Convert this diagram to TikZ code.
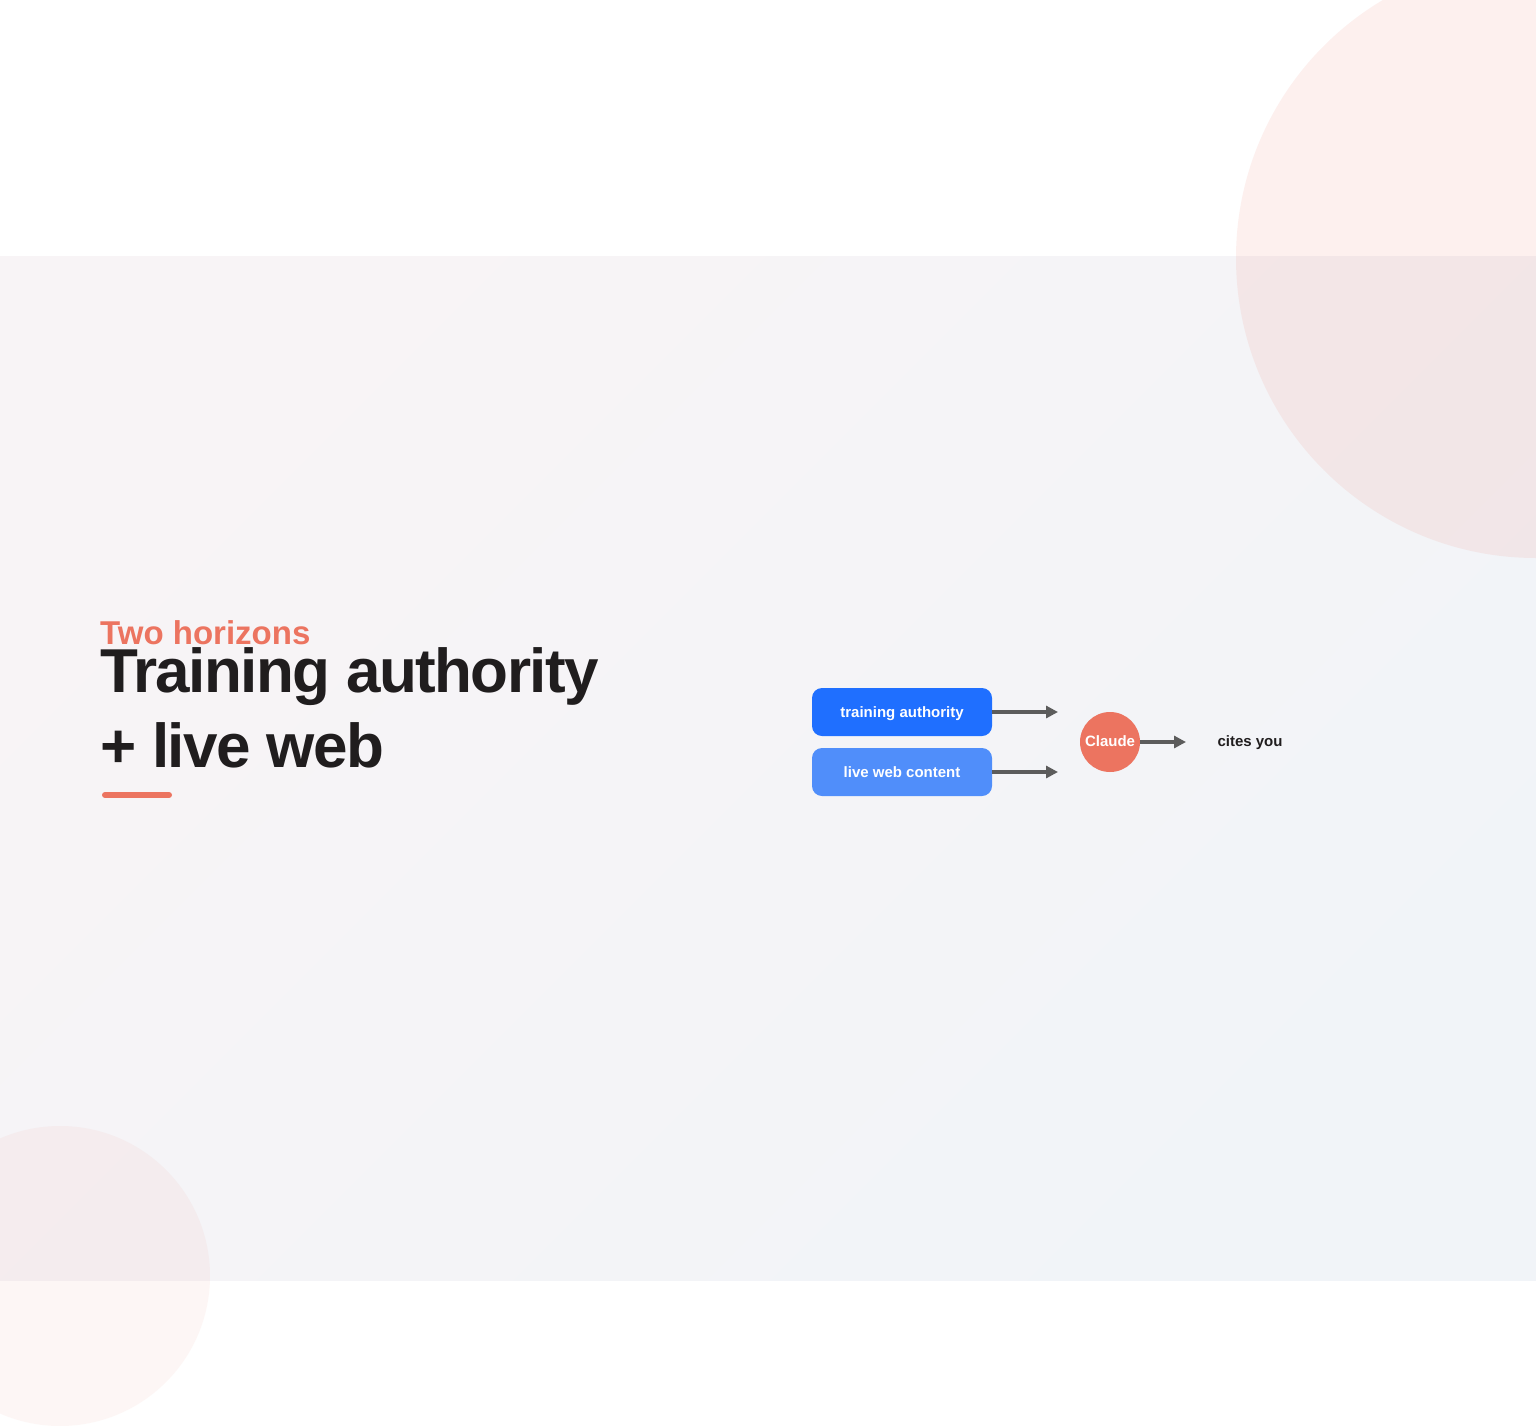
\documentclass[tikz,border=0pt]{standalone}
\usepackage{fontspec}
\setmainfont{Liberation Sans}
\usetikzlibrary{positioning}
\usetikzlibrary{calc}
\usetikzlibrary{arrows.meta}
\definecolor{ink}{RGB}{32,29,30}
\definecolor{coral}{RGB}{236,116,96}
\definecolor{blueA}{RGB}{31,111,255}
\definecolor{blueB}{RGB}{80,142,250}
\definecolor{arrowgray}{RGB}{92,92,92}
\definecolor{bandA}{RGB}{248,244,246}
\definecolor{bandB}{RGB}{241,244,248}

\begin{document}
\begin{tikzpicture}[x=1pt, y=-1pt,
		srcbox/.style={rounded corners=10pt, minimum width=180pt, minimum height=48pt, inner sep=0pt, text height=10pt, text depth=0pt, text=white, font=\fontsize{15}{18}\selectfont\bfseries},
		lbl/.style={inner sep=0pt, text height=8pt, text depth=0pt, font=\fontsize{15}{18}\selectfont\bfseries},
		flow/.style={arrowgray, line width=4pt, -{Triangle[length=12pt,width=12pt]}}]
			\useasboundingbox (0,0) rectangle (1536,1426);
			\clip (0,0) rectangle (1536,1426);

			% Background bands
			\fill[white] (0,0) rectangle (1536,1426);
			\shade[top color=bandA, bottom color=bandB, shading angle=45] (0,256) rectangle (1536,1280);

			% Decorative circles
			\fill[coral, opacity=0.1] (1536,258) circle (300);
			\fill[coral, opacity=0.06] (60,1276) circle (150);

			% Heading
			\node[anchor=base west, inner sep=0pt, text=coral, font=\fontsize{33}{36}\selectfont\bfseries] (kicker) at (100,644) {Two horizons};
			\node[anchor=base west, inner sep=0pt, text=ink, font=\fontsize{62}{75}\selectfont\bfseries\addfontfeature{LetterSpace=-2.5}] (title) at (100,692) {Training authority};
			\node[anchor=base west, inner sep=0pt, text=ink, font=\fontsize{62}{75}\selectfont\bfseries\addfontfeature{LetterSpace=-2.5}] (title2) at (100,767) {+ live web};
			\draw[coral, line width=6pt, line cap=round] (105,795) -- (169,795);

			% Sources
			\node[srcbox, fill=blueA] (train) at (902,712) {training authority};
			\node[srcbox, fill=blueB] (live) at (902,772) {live web content};

			% Model and outcome
			\node[circle, lbl, fill=coral, minimum size=60pt, text=white] (claude) at (1110,742) {Claude};
			\node[lbl, text=ink] (cites) at (1250,742) {cites you};

			% Arrows
			\coordinate (inA) at (1058,712);
			\coordinate (inB) at (1058,772);
			\coordinate (outC) at (1186,742);
			\draw[flow] (train.east) -- (inA);
			\draw[flow] (live.east) -- (inB);
			\draw[flow] (claude.east) -- (outC);
		\end{tikzpicture}
\end{document}
